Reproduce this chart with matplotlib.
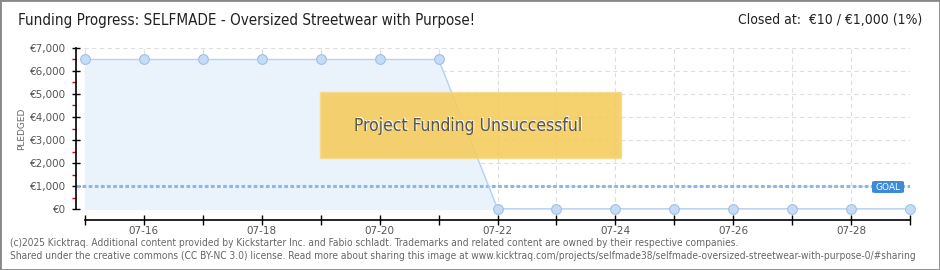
import matplotlib
matplotlib.use("Agg")
import matplotlib.pyplot as plt
import matplotlib.dates as mdates
from matplotlib.patches import Rectangle, FancyBboxPatch
from matplotlib.ticker import MultipleLocator, FuncFormatter
import pandas as pd

dates = ["2025-07-15", "2025-07-16", "2025-07-17", "2025-07-18", "2025-07-19",
         "2025-07-20", "2025-07-21", "2025-07-22", "2025-07-23", "2025-07-24",
         "2025-07-25", "2025-07-26", "2025-07-27", "2025-07-28", "2025-07-29"]
pledged = [6500, 6500, 6500, 6500, 6500, 6500, 6500, 10, 10, 10, 10, 10, 10, 10, 10]
goal = 1000
title = "Funding Progress: SELFMADE - Oversized Streetwear with Purpose!"
status = "Closed at:  €10 / €1,000 (1%)"
overlay = "Project Funding Unsuccessful"
footer1 = "(c)2025 Kicktraq. Additional content provided by Kickstarter Inc. and Fabio schladt. Trademarks and related content are owned by their respective companies."
footer2 = "Shared under the creative commons (CC BY-NC 3.0) license. Read more about sharing this image at www.kicktraq.com/projects/selfmade38/selfmade-oversized-streetwear-with-purpose-0/#sharing"

W, H = 940, 270
fig = plt.figure(figsize=(9.4, 2.7), dpi=100)
fig.patch.set_facecolor("white")

x = pd.to_datetime(dates)
xn = mdates.date2num(x)
ppd = (910 - 85) / (len(xn) - 1)

ax = fig.add_axes([76 / W, (H - 209) / H, (910 - 76) / W, (209 - 48) / H])
ax.set_xlim(xn[0] - 9 / ppd, xn[-1])
ax.set_ylim(0, 7000)

ax.fill_between(xn, pledged, 0, color="#eaf3fc", zorder=1)
ax.plot(xn, pledged, color="#b5d3f3", lw=1, zorder=3,
        marker="o", ms=7, mfc="#c5dcf6", mec="#a3bfdf", mew=0.8, clip_on=False)
ax.axhline(goal, color="#8ab8e8", lw=2.2, ls=(0, (1.2, 0.8)), zorder=2)

ax.grid(True, color="#dedede", ls=(0, (4, 3)), lw=0.8)
ax.set_axisbelow(True)
ax.yaxis.set_major_locator(MultipleLocator(1000))
ax.yaxis.set_minor_locator(MultipleLocator(500))
ax.yaxis.set_major_formatter(FuncFormatter(lambda v, p: "€{:,.0f}".format(v)))
ax.xaxis.set_major_locator(mdates.DayLocator(interval=1))
ax.xaxis.set_major_formatter(FuncFormatter(
    lambda v, p: mdates.num2date(v).strftime("%m-%d") if int(round(v - xn[0])) % 2 == 1 else ""))

for s in ["top", "right"]:
    ax.spines[s].set_visible(False)
ax.spines["left"].set_color("black")
ax.spines["left"].set_linewidth(1.2)
ax.spines["left"].set_bounds(0, 7000)
ax.spines["bottom"].set_position(("outward", 8))
ax.spines["bottom"].set_bounds(xn[0], xn[-1])
ax.spines["bottom"].set_linewidth(1.2)

ax.tick_params(axis="y", which="major", direction="inout", length=6, width=1,
               labelsize=7.5, labelcolor="#555555", pad=4)
ax.tick_params(axis="y", which="minor", direction="out", length=3, width=1, color="#dd0000")
ax.tick_params(axis="x", which="major", direction="inout", length=7, width=1,
               labelsize=7.5, labelcolor="#555555", pad=1)
ax.set_ylabel("PLEDGED", fontsize=6.5, color="#666666", labelpad=3)

# goal label
fig.patches.append(FancyBboxPatch((872 / W, (H - 193) / H), 32 / W, 12 / H,
                                  boxstyle="round,pad=0,rounding_size=0.004",
                                  transform=fig.transFigure, fc="#3d8ad8", ec="none", zorder=10))
fig.text(888 / W, (H - 187) / H, "GOAL", fontsize=6.5, color="white", ha="center", va="center", zorder=11)

# overlay box
fig.patches.append(Rectangle((320 / W, (H - 158) / H), 301 / W, 66 / H, transform=fig.transFigure,
                             fc="#f5cd5e", ec="#f4dc8c", lw=1, alpha=0.9, zorder=10))
fig.text(469 / W, (H - 125) / H, overlay, fontsize=12.5, color="white", ha="center", va="center",
         fontstretch="condensed", zorder=11)
fig.text(468 / W, (H - 126) / H, overlay, fontsize=12.5, color="#555555", ha="center", va="center",
         fontstretch="condensed", zorder=12)

fig.text(18 / W, (H - 20) / H, title, fontsize=10.9, color="#222222", ha="left", va="center",
         fontstretch="condensed")
fig.text(922 / W, (H - 20) / H, status, fontsize=10, color="#222222", ha="right", va="center",
         fontstretch="condensed")
fig.text(10 / W, (H - 243) / H, footer1, fontsize=7.3, color="#666666", ha="left", va="center",
         fontstretch="condensed")
fig.text(10 / W, (H - 256) / H, footer2, fontsize=7.3, color="#666666", ha="left", va="center",
         fontstretch="condensed")

fig.patches.append(Rectangle((0, 0), 1, 1, transform=fig.transFigure, fill=False,
                             ec="#888888", lw=2, zorder=20))

fig.savefig("out.png", dpi=100)
